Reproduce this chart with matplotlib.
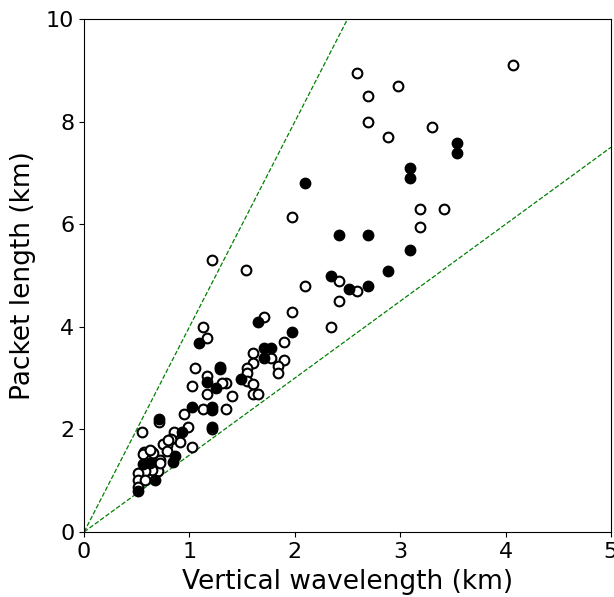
import matplotlib
matplotlib.use("Agg")
import matplotlib.pyplot as plt
import numpy as np

# filled symbols
filled_x = [3.54, 3.54, 3.09, 3.09, 2.10, 2.42, 2.69, 3.09, 2.88, 2.34, 2.51, 2.69,
            1.655, 1.97, 1.09, 1.71, 1.77, 1.71, 1.29, 1.29, 1.49, 1.17, 1.25,
            1.02, 1.21, 1.21, 0.715, 1.21, 0.93, 0.86, 0.84, 0.56, 0.63, 0.674, 0.516]
filled_y = [7.58, 7.39, 7.10, 6.90, 6.80, 5.79, 5.79, 5.50, 5.09, 4.99, 4.74, 4.80,
            4.09, 3.89, 3.69, 3.59, 3.59, 3.39, 3.22, 3.18, 2.98, 2.93, 2.80,
            2.44, 2.43, 2.38, 2.20, 2.05, 1.95, 1.49, 1.37, 1.32, 1.35, 1.01, 0.79]

# open symbols
open_x = [2.59, 4.07, 2.98, 2.69, 2.69, 2.88, 3.30, 1.97, 3.19, 3.42, 3.19, 1.21,
          1.54, 2.42, 2.59, 2.10, 2.42, 2.34, 1.97, 1.71, 1.13, 1.17, 1.90, 1.77,
          1.60, 1.90, 1.60, 1.84, 1.84, 1.545, 1.545, 1.545, 1.60, 1.35, 1.31, 1.40,
          1.60, 1.655, 1.35, 1.05, 1.17, 1.02, 1.17, 1.13, 0.95, 0.715, 0.547, 1.21,
          0.985, 0.85, 0.91, 1.02, 0.82, 0.785, 0.75, 0.573, 0.642, 0.785, 0.72, 0.70,
          0.642, 0.58, 0.516, 0.516, 0.58, 0.516, 0.72, 0.563, 0.65, 0.80, 0.627]
open_y = [8.95, 9.10, 8.70, 8.50, 8.00, 7.70, 7.90, 6.14, 6.30, 6.30, 5.95, 5.30,
          5.10, 4.89, 4.70, 4.80, 4.50, 4.00, 4.29, 4.19, 4.00, 3.79, 3.70, 3.39,
          3.49, 3.35, 3.29, 3.24, 3.09, 3.19, 3.09, 2.94, 2.89, 2.90, 2.90, 2.65,
          2.69, 2.69, 2.39, 3.19, 3.05, 2.85, 2.68, 2.39, 2.29, 2.15, 1.94, 2.00,
          2.04, 1.95, 1.76, 1.66, 1.81, 1.70, 1.72, 1.55, 1.55, 1.57, 1.40, 1.18,
          1.21, 1.18, 1.14, 1.01, 1.01, 0.88, 1.35, 1.52, 1.53, 1.79, 1.60]

# bounding ratios (packet length / vertical wavelength)
ratios = [4.0, 1.5]

fig = plt.figure(figsize=(6.14, 5.97), dpi=100)
ax = fig.add_axes([0.137, 0.109, 0.858, 0.859])

xline = np.array([0, 5])
for r in ratios:
    ax.plot(xline, r * xline, '--', color='green', lw=0.9)

ax.plot(open_x, open_y, 'o', ms=7, mfc='white', mec='black', mew=1.5, ls='none')
ax.plot(filled_x, filled_y, 'o', ms=7, mfc='black', mec='black', mew=1.5, ls='none')

ax.set_xlim(0, 5)
ax.set_ylim(0, 10)
ax.set_xticks([0, 1, 2, 3, 4, 5])
ax.set_yticks([0, 2, 4, 6, 8, 10])
ax.tick_params(labelsize=16)
ax.set_xlabel('Vertical wavelength (km)', fontsize=19, labelpad=5)
ax.set_ylabel('Packet length (km)', fontsize=19, labelpad=7)

fig.savefig('out.png', dpi=100)
